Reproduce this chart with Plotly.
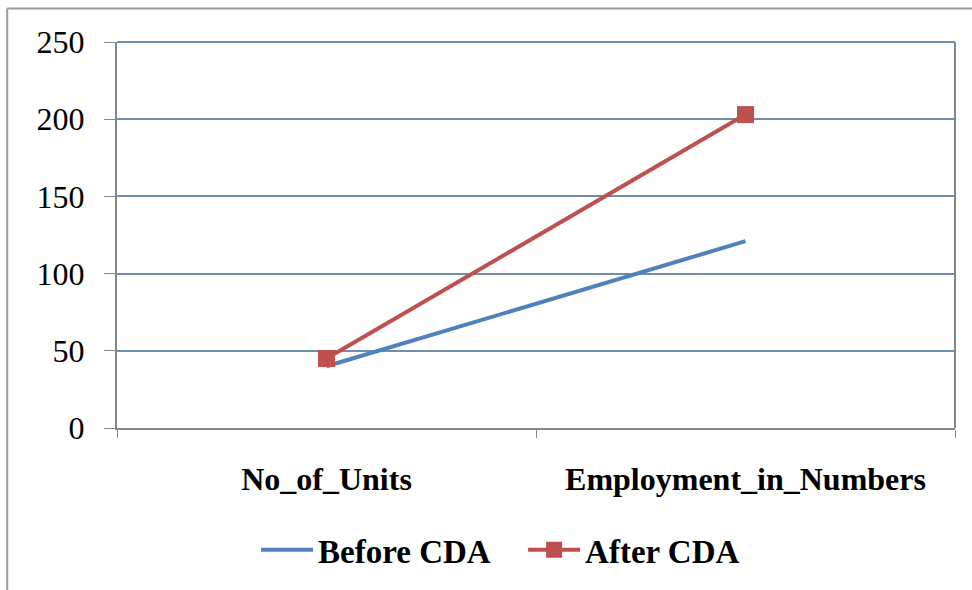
import plotly.graph_objects as go

# values
categories = ["No_of_Units", "Employment_in_Numbers"]
before_cda = [40, 121]
after_cda = [45, 203]
y_ticks = [0, 50, 100, 150, 200, 250]

fig = go.Figure()

fig.add_trace(go.Scatter(
    x=categories, y=before_cda, name="Before CDA",
    mode="lines", line=dict(color="#4F81BD", width=4)
))
fig.add_trace(go.Scatter(
    x=categories, y=after_cda, name="After CDA",
    mode="lines+markers", line=dict(color="#C0504D", width=4),
    marker=dict(symbol="square", size=17, color="#C0504D")
))

font_family = "Liberation Serif"
grid_color = "#6f8fb0"

fig.update_layout(
    width=972, height=590,
    margin=dict(l=117, r=17, t=42, b=159),
    paper_bgcolor="white", plot_bgcolor="white",
    font=dict(family=font_family, color="#000000"),
    showlegend=True,
    legend=dict(
        orientation="h", x=0.166, xanchor="left", y=-0.243, yanchor="top",
        font=dict(family=font_family, size=33, color="#000000", weight="bold"),
        itemwidth=52, entrywidth=200, entrywidthmode="pixels",
        tracegroupgap=0, traceorder="normal",
    ),
    shapes=[
        # thin frame at the top and left of the picture
        dict(type="line", xref="paper", yref="paper", x0=-0.131, x1=1.03, y0=1.087, y1=1.087,
             line=dict(color="#9a9a9a", width=2)),
        dict(type="line", xref="paper", yref="paper", x0=-0.131, x1=-0.131, y0=-0.42, y1=1.087,
             line=dict(color="#9a9a9a", width=2)),
        # top gridline and right border of the plot area
        dict(type="line", xref="paper", yref="paper", x0=0, x1=1, y0=1, y1=1,
             line=dict(color=grid_color, width=2)),
        dict(type="line", xref="paper", yref="paper", x0=1, x1=1, y0=0, y1=1,
             line=dict(color="#868686", width=2)),
    ],
)

fig.update_xaxes(
    type="category", range=[-0.5, 1.5],
    showgrid=False, showline=True, linecolor="#868686", linewidth=2,
    ticks="outside", ticklen=8, tickcolor="#868686", tickson="boundaries",
    tickfont=dict(family=font_family, size=32, color="#000000", weight="bold"),
    ticklabelstandoff=22,
    zeroline=False,
)

fig.update_yaxes(
    range=[0, 250], tickvals=y_ticks,
    showgrid=True, gridcolor=grid_color, gridwidth=2,
    showline=True, linecolor="#868686", linewidth=2,
    ticks="outside", ticklen=11, tickcolor="#868686",
    tickfont=dict(family=font_family, size=32, color="#000000"),
    ticklabelstandoff=13,
    zeroline=False,
)

# drop the page margin so the figure sits at the window's corner
fig.write_html("out.html", config={"displayModeBar": False},
               post_script="document.body.style.margin='0';")
